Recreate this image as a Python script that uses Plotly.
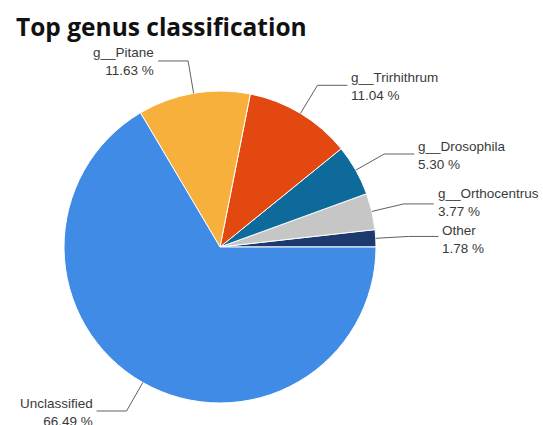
import math
import plotly.graph_objects as go

# ---- data ----
labels = ["Other", "g__Orthocentrus", "g__Drosophila", "g__Trirhithrum", "g__Pitane", "Unclassified"]
values = [1.78, 3.77, 5.30, 11.04, 11.63, 66.49]
colors = ["#1C3A6E", "#C6C6C6", "#0E6A9A", "#E2480F", "#F8B03C", "#3F8BE6"]
title_text = "Top genus classification"

W, H = 543, 425
CX, CY, R = 220, 247, 156
ELBOW = 1.21 * R
SEG = 30
LABEL_DY = {"g__Orthocentrus": -2, "Other": 2}

def px(x):
    return x / W

def py(y):
    return 1 - y / H

total = sum(values)

fig = go.Figure(go.Pie(
    labels=labels, values=values, sort=False, direction="counterclockwise",
    rotation=90 - values[0] / total * 360,
    marker=dict(colors=colors, line=dict(color="white", width=1)),
    textinfo="none", hoverinfo="label+percent", showlegend=False,
    domain=dict(x=[px(CX - R), px(CX + R)], y=[py(CY + R), py(CY - R)]),
))

cum = 0.0
shapes = []
annotations = []
for lab, v in zip(labels, values):
    mid = (cum + v / 2) / total * 2 * math.pi
    cum += v
    ex, ey = CX + R * math.cos(mid), CY - R * math.sin(mid)
    bx, by = CX + ELBOW * math.cos(mid), CY - ELBOW * math.sin(mid)
    right = math.cos(mid) >= 0
    hx = bx + SEG if right else bx - SEG
    path = f"M {px(ex)},{py(ey)} L {px(bx)},{py(by)} L {px(hx)},{py(by)}"
    shapes.append(dict(type="path", path=path, xref="paper", yref="paper",
                       line=dict(color="#606060", width=1)))
    annotations.append(dict(
        x=px(hx + (2 if right else -2)), y=py(by + 1 + LABEL_DY.get(lab, 0)),
        xref="paper", yref="paper",
        text=f"{lab}<br>{v:.2f} %", showarrow=False,
        xanchor="left" if right else "right", yanchor="middle",
        align="left" if right else "right",
        font=dict(family="Liberation Sans, Arial", size=13.5, color="#3A3A3A"),
    ))

annotations.append(dict(
    x=px(14), y=py(8), xref="paper", yref="paper", text=f"<b>{title_text}</b>",
    showarrow=False, xanchor="left", yanchor="top",
    font=dict(family="Open Sans", size=24.5, color="#111111"),
))

fig.update_layout(
    width=W, height=H, margin=dict(l=0, r=0, t=0, b=0),
    paper_bgcolor="white", plot_bgcolor="white",
    shapes=shapes, annotations=annotations,
)
fig.write_html("out.html")
